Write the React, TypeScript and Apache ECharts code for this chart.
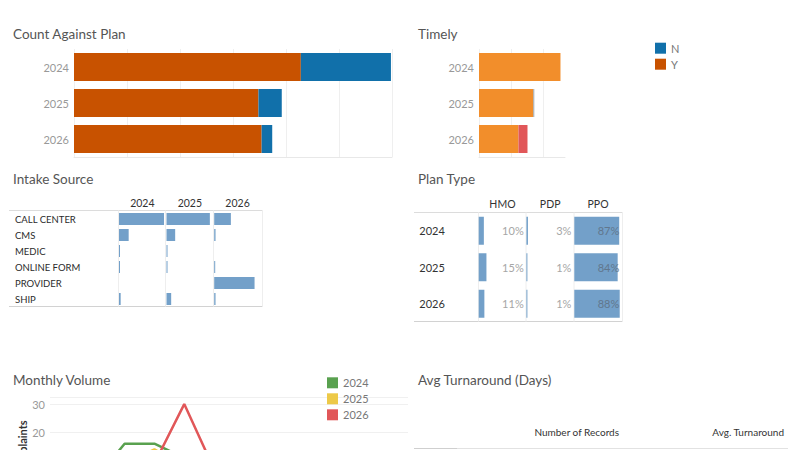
import React, { useEffect, useRef } from "react";
import * as echarts from "echarts";

// ---- data ----
const years = ["2024", "2025", "2026"];

// Count against plan (stacked: Y then N)
const planY = [214, 174, 177];
const planN = [85, 22, 10];

// Timely (stacked: on time, unknown, late)
const timelyY = [252, 168, 122];
const timelyUnknown = [0, 3, 0];
const timelyN = [0, 0, 28];

// Intake source counts by year
const intakeSources = ["CALL CENTER", "CMS", "MEDIC", "ONLINE FORM", "PROVIDER", "SHIP"];
const intake2024 = [135, 29, 3, 3, 0, 5];
const intake2025 = [130, 26, 3, 3, 0, 14];
const intake2026 = [50, 4, 0, 3, 121, 4];

// Plan type share by year (%)
const planTypes = ["HMO", "PDP", "PPO"];
const hmoPct = [10, 15, 11];
const pdpPct = [3, 1, 1];
const ppoPct = [87, 84, 88];

// Monthly volume
const months = ["Jan", "Feb", "Mar", "Apr", "May", "Jun", "Jul", "Aug", "Sep", "Oct", "Nov", "Dec"];
const vol2024 = [7, 3, 16, 16, 11, 9, 8, 11, 7, 6, 9, 8];
const vol2025 = [6, 5, 9, 14, 8, 10, 7, 9, 6, 8, 5, 7];
const vol2026 = [5, 7, 6, 9, 30, 7, null, null, null, null, null, null];

// Turnaround table headers
const turnaroundHeaders = ["Number of Records", "Avg. Turnaround"];

const FONT = 'Lato, "Noto Sans", sans-serif';
const TITLE = "#555555";
const DARK = "#333333";
const GREY = "#999999";
const BAR_BLUE = "#73A0C9";
const LINE_LIGHT = "#e4e4e4";

const nz = (arr: (number | null)[]) => arr.map((v) => (v === 0 ? null : v));

function buildOption() {
  const intakeCols = [intake2024, intake2025, intake2026];
  const intakeLefts = [119, 166.5, 214.2];
  const intakeW = 46.7;
  const intakeTop = 211;
  const intakeH = 96;

  const planCols = [hmoPct, pdpPct, ppoPct];
  const planLefts = [478.7, 526.4, 574.3];
  const planW = 47.5;
  const planTop = 212.5;
  const planH = 109.5;
  const planMax = 92;

  const g = (left: number, top: number, width: number, height: number) => ({
    left,
    top,
    width,
    height,
    containLabel: false,
    outerBoundsMode: "none",
  });

  const grid: any[] = [
    g(74, 49, 318, 108),
    g(479, 49, 86, 108),
    ...intakeLefts.map((l) => g(l, intakeTop, intakeW, intakeH)),
    ...planLefts.map((l) => g(l, planTop, planW, planH)),
    g(50, 397.3, 358, 91.7),
  ];

  const hiddenValue = (gi: number, max: number) => ({
    type: "value",
    gridIndex: gi,
    min: 0,
    max,
    show: false,
  });

  const xAxis: any[] = [
    {
      type: "value",
      gridIndex: 0,
      min: 0,
      max: 300,
      interval: 50,
      axisLabel: { show: false },
      axisTick: { show: false },
      axisLine: { show: true, lineStyle: { color: "#e8e8e8" } },
      splitLine: { show: true, lineStyle: { color: "#efefef" } },
    },
    {
      type: "value",
      gridIndex: 1,
      min: 0,
      max: 266,
      interval: 100,
      axisLabel: { show: false },
      axisTick: { show: false },
      axisLine: { show: true, lineStyle: { color: "#e8e8e8" } },
      splitLine: { show: true, showMaxLine: false, lineStyle: { color: "#efefef" } },
    },
    ...intakeLefts.map((_, i) => hiddenValue(2 + i, 140)),
    ...planLefts.map((_, i) => hiddenValue(5 + i, planMax)),
    {
      type: "category",
      gridIndex: 8,
      data: months,
      boundaryGap: true,
      axisLabel: { show: false },
      axisTick: { show: false },
      axisLine: { show: false },
    },
  ];

  const yearAxis = (gi: number) => ({
    type: "category",
    gridIndex: gi,
    data: years,
    inverse: true,
    axisLine: { show: false },
    axisTick: { show: false },
    axisLabel: { color: GREY, fontSize: 11, fontFamily: FONT, margin: 5 },
  });

  const yAxis: any[] = [
    yearAxis(0),
    yearAxis(1),
    ...intakeLefts.map((_, i) => ({
      type: "category",
      gridIndex: 2 + i,
      data: intakeSources,
      inverse: true,
      axisLine: { show: false },
      axisTick: { show: false },
      axisLabel:
        i === 0
          ? { show: true, align: "left", margin: 104, color: "#2b2b2b", fontSize: 9.5, fontFamily: FONT }
          : { show: false },
    })),
    ...planLefts.map((_, i) => ({
      type: "category",
      gridIndex: 5 + i,
      data: years,
      inverse: true,
      axisLine: { show: false },
      axisTick: { show: false },
      axisLabel:
        i === 0
          ? { show: true, align: "left", margin: 59.4, color: DARK, fontSize: 11, fontFamily: FONT }
          : { show: false },
    })),
    {
      type: "value",
      gridIndex: 8,
      min: 0,
      max: 32.4,
      interval: 10,
      axisLine: { show: false },
      axisTick: { show: false },
      axisLabel: { color: GREY, fontSize: 11, fontFamily: FONT, margin: 5, showMaxLabel: false },
      splitLine: { show: true, showMaxLine: true, lineStyle: { color: "#f0f0f0" } },
    },
  ];

  const series: any[] = [
    { type: "bar", name: "Y", stack: "count", xAxisIndex: 0, yAxisIndex: 0, barWidth: 28, data: planY, itemStyle: { color: "#C85200" } },
    { type: "bar", name: "N", stack: "count", xAxisIndex: 0, yAxisIndex: 0, barWidth: 28, data: planN, itemStyle: { color: "#1170AA" } },
    { type: "bar", name: "On Time", stack: "timely", xAxisIndex: 1, yAxisIndex: 1, barWidth: 28, data: nz(timelyY), itemStyle: { color: "#F28E2B" } },
    { type: "bar", name: "Unknown", stack: "timely", xAxisIndex: 1, yAxisIndex: 1, barWidth: 28, data: nz(timelyUnknown), itemStyle: { color: "#9aa3ad" } },
    { type: "bar", name: "Late", stack: "timely", xAxisIndex: 1, yAxisIndex: 1, barWidth: 28, data: nz(timelyN), itemStyle: { color: "#E15759" } },
    ...intakeCols.map((col, i) => ({
      type: "bar",
      name: "Intake " + years[i],
      xAxisIndex: 2 + i,
      yAxisIndex: 2 + i,
      barWidth: 12,
      barMinHeight: 1,
      data: nz(col),
      itemStyle: { color: BAR_BLUE },
    })),
    ...planCols.map((col, j) => ({
      type: "bar",
      name: planTypes[j],
      xAxisIndex: 5 + j,
      yAxisIndex: 5 + j,
      barWidth: 28,
      barMinHeight: 1,
      data: nz(col),
      itemStyle: { color: BAR_BLUE },
    })),
    ...[
      { name: "2024", data: vol2024, color: "#59A14F" },
      { name: "2025", data: vol2025, color: "#EDC948" },
      { name: "2026", data: vol2026, color: "#E15759" },
    ].map((s) => ({
      type: "line",
      name: s.name,
      xAxisIndex: 8,
      yAxisIndex: 8,
      data: s.data,
      symbol: "none",
      color: s.color,
      lineStyle: { width: 2.5, color: s.color },
    })),
  ];

  const txt = (text: string, x: number, y: number, extra: any = {}, z = 10) => ({
    type: "text",
    x,
    y,
    z,
    silent: true,
    style: {
      text,
      fontFamily: FONT,
      fontSize: 11,
      fill: DARK,
      align: "left",
      verticalAlign: "middle",
      ...extra,
    },
  });
  const hline = (x1: number, x2: number, y: number, color = LINE_LIGHT) => ({
    type: "line",
    z: 1,
    silent: true,
    shape: { x1, y1: y, x2, y2: y },
    style: { stroke: color, lineWidth: 1 },
  });
  const vline = (x: number, y1: number, y2: number, color = "#eeeeee") => ({
    type: "line",
    z: 1,
    silent: true,
    shape: { x1: x, y1, x2: x, y2 },
    style: { stroke: color, lineWidth: 1 },
  });

  const titleStyle = { fontSize: 13.5, fill: TITLE };
  const rowH = planH / years.length;

  const graphic: any[] = [
    txt("Count Against Plan", 13, 34, titleStyle),
    txt("Timely", 418, 34, titleStyle),
    txt("Intake Source", 13, 179, titleStyle),
    txt("Plan Type", 418, 179, titleStyle),
    txt("Monthly Volume", 13, 380, titleStyle),
    txt("Avg Turnaround (Days)", 418, 380, titleStyle),

    // intake table
    ...years.map((yr, i) => txt(yr, intakeLefts[i] + intakeW / 2, 203, { align: "center", fontSize: 10.5 })),
    hline(9, 262.5, 210.5, "#dcdcdc"),
    hline(9, 262.5, 306.5, "#d2d2d2"),
    vline(118.5, 210.5, 306.5),
    vline(165.5, 210.5, 306.5),
    vline(213.5, 210.5, 306.5),
    vline(262.5, 210.5, 306.5),

    // plan type table
    ...planTypes.map((p, j) => txt(p, planLefts[j] + planW / 2, 204, { align: "center", fontSize: 10.5 })),
    hline(414, 622.5, 212.5, "#dcdcdc"),
    hline(414, 622.5, 321.5, "#d2d2d2"),
    vline(478.5, 212.5, 321.5),
    vline(526, 212.5, 321.5),
    vline(574, 212.5, 321.5),
    vline(622.5, 212.5, 321.5),
    ...planCols.flatMap((col, j) =>
      col.map((v, r) =>
        txt(v + "%", planLefts[j] + planW - 2.5, planTop + rowH * (r + 0.5), {
          align: "right",
          fill: j === 2 ? "#61778d" : "#a6a6a6",
          fontSize: 11,
        })
      )
    ),

    // monthly volume axis title
    {
      type: "text",
      x: 22,
      y: 448,
      rotation: Math.PI / 2,
      z: 10,
      silent: true,
      style: {
        text: "Complaints",
        fontFamily: FONT,
        fontSize: 11,
        fontWeight: "bold",
        fill: DARK,
        align: "center",
        verticalAlign: "middle",
      },
    },

    // turnaround table header
    txt(turnaroundHeaders[0], 576.7, 431.7, { align: "center", fontSize: 10 }),
    txt(turnaroundHeaders[1], 784, 431.7, { align: "right", fontSize: 10 }),
    hline(414, 788, 448.5, "#e2e2e2"),
    hline(414, 457, 448.5, "#cfcfcf"),
  ];

  const legendBase = {
    orient: "vertical",
    icon: "rect",
    itemWidth: 11,
    itemHeight: 11,
    itemGap: 5,
    padding: 0,
    selectedMode: false,
    textStyle: { color: "#777777", fontSize: 11, fontFamily: FONT },
  };

  return {
    animation: false,
    backgroundColor: "#ffffff",
    textStyle: { fontFamily: FONT },
    grid,
    xAxis,
    yAxis,
    series,
    legend: [
      { ...legendBase, data: ["N", "Y"], left: 655, top: 42.7 },
      { ...legendBase, data: ["2024", "2025", "2026"], left: 327, top: 377.3 },
    ],
    graphic,
  };
}

export default function App() {
  const ref = useRef<HTMLDivElement>(null);
  useEffect(() => {
    if (!ref.current) return;
    const chart = echarts.init(ref.current, null, { renderer: "svg", width: 800, height: 450 });
    chart.setOption(buildOption() as any);
    return () => chart.dispose();
  }, []);
  return (
    <div
      ref={ref}
      style={{ position: "fixed", left: 0, top: 0, width: 800, height: 450, background: "#ffffff" }}
    />
  );
}
